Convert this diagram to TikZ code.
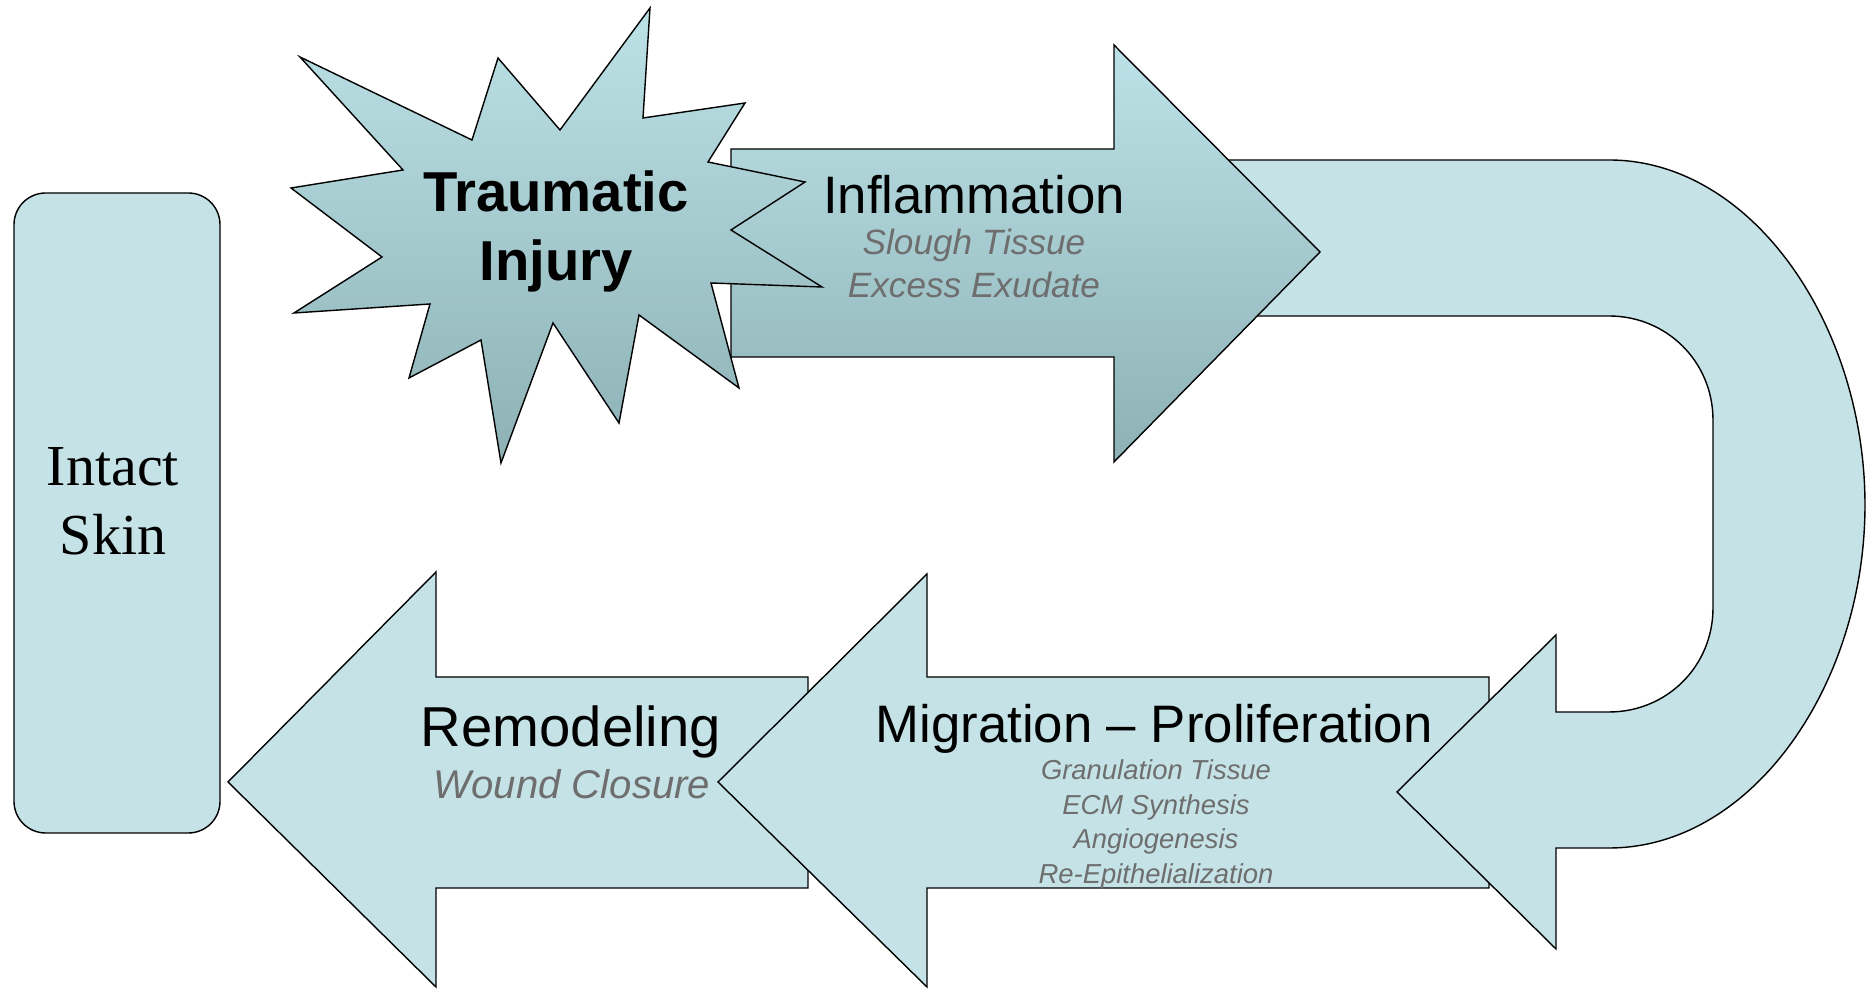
\documentclass[tikz,border=0pt]{standalone}
\usepackage{fontspec}
\setmainfont{Liberation Serif}
\setsansfont{Liberation Sans}
\usepackage{tikz}
\definecolor{paleblue}{RGB}{197,226,230}
\definecolor{topblue}{RGB}{188,226,231}
\definecolor{bottomblue}{RGB}{141,177,181}
\definecolor{notegray}{RGB}{110,110,110}

\begin{document}
\begin{tikzpicture}[x=0.01cm,y=-0.01cm,thin,line join=miter]
 \tikzstyle{phase}=[draw=black,fill=paleblue]
 \tikzstyle{shaded phase}=[draw=black,top color=topblue,bottom color=bottomblue]
 \tikzstyle{title}=[anchor=base,font=\sffamily\fontsize{15}{18}\selectfont]
 \tikzstyle{note}=[anchor=base,text=notegray,font=\sffamily\itshape\fontsize{10}{12}\selectfont]
 \tikzstyle{small note}=[note,font=\sffamily\itshape\fontsize{7.8}{9}\selectfont]

   \useasboundingbox (0,0) rectangle (1868,989);

   % intact skin
   \draw[phase,rounded corners=9pt] (14,193) rectangle (220,833);
   \node[anchor=base,font=\rmfamily\fontsize{16.5}{20}\selectfont] (intact) at (113,486) {Intact};
   \node[anchor=base,font=\rmfamily\fontsize{16.5}{20}\selectfont] (skin) at (113,555) {Skin};

   % remodeling
   \draw[phase] (808,677) -- (436,677) -- (436,572) -- (228,782) -- (436,987)
      -- (436,888) -- (808,888) -- cycle;
   % migration - proliferation
   \draw[phase] (1489,677) -- (927,677) -- (927,574) -- (718,782) -- (927,987)
      -- (927,888) -- (1489,888) -- cycle;
   % turning arrow
   \draw[phase] (1200,160) -- (1609,160) .. controls (1752,160) and (1865,325) .. (1865,505)
      .. controls (1865,685) and (1752,848) .. (1609,848) -- (1556,848) -- (1556,949)
      -- (1397,792) -- (1556,635) -- (1556,712) -- (1609,712)
      .. controls (1667,712) and (1713,666) .. (1713,608) -- (1713,420)
      .. controls (1713,362) and (1667,316) .. (1609,316) -- (1200,316) -- cycle;
   % inflammation
   \draw[shaded phase] (731,149) -- (1114,149) -- (1114,45) -- (1320,252) -- (1114,462)
      -- (1114,357) -- (731,357) -- cycle;
   % injury
   \draw[shaded phase] (300,57) -- (472,140) -- (498,58) -- (560,130) -- (650,8) -- (643,118)
      -- (745,103) -- (708,162) -- (805,182) -- (731,230) -- (822,287) -- (711,283)
      -- (739,388) -- (639,315) -- (619,423) -- (553,323) -- (501,463) -- (481,340)
      -- (409,378) -- (430,304) -- (294,313) -- (382,257) -- (291,188) -- (403,170) -- cycle;

   \node[anchor=base,font=\sffamily\bfseries\fontsize{16}{19}\selectfont] (traumatic) at (556,212) {Traumatic};
   \node[anchor=base,font=\sffamily\bfseries\fontsize{16}{19}\selectfont] (injury) at (556,281) {Injury};

   \node[title] (inflam) at (974,214) {Inflammation};
   \node[note] (slough) at (974,255) {Slough Tissue};
   \node[note] (exudate) at (974,298) {Excess Exudate};

   \node[title,font=\sffamily\fontsize{16}{19}\selectfont] (remodel) at (571,747) {Remodeling};
   \node[note,font=\sffamily\itshape\fontsize{11.4}{13}\selectfont] (closure) at (572,799) {Wound Closure};

   \node[title] (migration) at (1154,743) {Migration -- Proliferation};
   \node[small note] (granulation) at (1156,780) {Granulation Tissue};
   \node[small note] (ecm) at (1156,815) {ECM Synthesis};
   \node[small note] (angio) at (1156,849) {Angiogenesis};
   \node[small note] (epi) at (1156,884) {Re-Epithelialization};

\end{tikzpicture}
\end{document}
